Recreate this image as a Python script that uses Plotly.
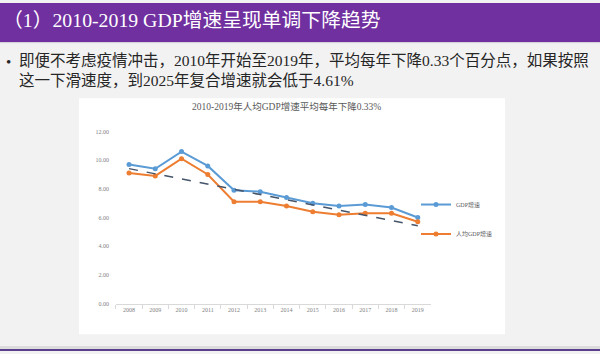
import plotly.graph_objects as go

# ---- data ----
years = ["2008", "2009", "2010", "2011", "2012", "2013", "2014", "2015", "2016", "2017", "2018", "2019"]
gdp_growth = [9.7, 9.4, 10.6, 9.6, 7.9, 7.8, 7.4, 7.0, 6.8, 6.9, 6.7, 6.0]
per_capita_growth = [9.1, 8.9, 10.1, 9.0, 7.1, 7.1, 6.8, 6.4, 6.2, 6.3, 6.3, 5.7]
trend_years = ["2008", "2019"]
trend_values = [9.41, 5.42]
y_ticks = [0, 2, 4, 6, 8, 10, 12]

W, H = 600, 354


def px(x):
    return x / W


def py(y):
    return 1 - y / H


BLUE = "#5B9BD5"
ORANGE = "#ED7D31"
TREND = "#44546A"
PURPLE = "#7030A0"
LABEL = "#7F7F7F"

fig = go.Figure()

fig.add_trace(go.Scatter(
    x=years, y=gdp_growth, name="GDP增速", mode="lines+markers",
    line=dict(color=BLUE, width=2), marker=dict(symbol="circle", size=5, color=BLUE),
    legend="legend",
))
fig.add_trace(go.Scatter(
    x=years, y=per_capita_growth, name="人均GDP增速", mode="lines+markers",
    line=dict(color=ORANGE, width=2), marker=dict(symbol="circle", size=5, color=ORANGE),
    legend="legend2",
))
fig.add_trace(go.Scatter(
    x=trend_years, y=trend_values, mode="lines", showlegend=False,
    line=dict(color=TREND, width=1.5, dash="dash"),
))

serif = "Liberation Serif, Noto Sans CJK SC, serif"

fig.update_layout(
    width=W, height=H,
    margin=dict(l=0, r=0, t=0, b=0),
    paper_bgcolor="#F2F2F2",
    plot_bgcolor="rgba(0,0,0,0)",
    font=dict(family=serif, color=LABEL),
    xaxis=dict(
        domain=[px(115.9), px(430.9)],
        type="category", categoryorder="array", categoryarray=years,
        range=[-0.5, 11.5],
        showline=True, linecolor="#D9D9D9", linewidth=1,
        ticks="outside", tickson="boundaries", ticklen=4, tickcolor="#D9D9D9",
        showgrid=False, zeroline=False,
        tickfont=dict(size=6, color=LABEL, family=serif),
    ),
    yaxis=dict(
        domain=[py(305.7), py(130.7)],
        range=[0, 12],
        tickvals=y_ticks, tickformat=".2f",
        showline=False, showgrid=False, zeroline=False,
        ticks="", ticklabelstandoff=6,
        tickfont=dict(size=6, color=LABEL, family=serif),
    ),
    legend=dict(
        x=px(416), y=py(205), xanchor="left", yanchor="middle",
        bgcolor="rgba(0,0,0,0)", font=dict(size=6, color="#595959", family=serif),
        itemwidth=30,
    ),
    legend2=dict(
        x=px(416), y=py(235), xanchor="left", yanchor="middle",
        bgcolor="rgba(0,0,0,0)", font=dict(size=6, color="#595959", family=serif),
        itemwidth=30,
    ),
    shapes=[
        # header band
        dict(type="rect", xref="paper", yref="paper", x0=0, x1=1, y0=py(40), y1=1,
             fillcolor=PURPLE, line=dict(width=0), layer="below"),
        dict(type="rect", xref="paper", yref="paper", x0=0, x1=1, y0=py(41), y1=py(40),
             fillcolor="#D9D9D9", line=dict(width=0), layer="below"),
        # white chart box
        dict(type="rect", xref="paper", yref="paper", x0=px(79), x1=px(505), y0=py(337), y1=py(97),
             fillcolor="white", line=dict(width=0), layer="below"),
        # bottom strips
        dict(type="rect", xref="paper", yref="paper", x0=0, x1=1, y0=py(352), y1=py(349),
             fillcolor="#DCDCDC", line=dict(width=0), layer="below"),
        dict(type="rect", xref="paper", yref="paper", x0=0, x1=1, y0=0, y1=py(352),
             fillcolor="#5B3F8F", line=dict(width=0), layer="below"),
    ],
    annotations=[
        dict(text="（1）2010-2019 GDP增速呈现单调下降趋势", xref="paper", yref="paper",
             x=px(1), y=py(17), xanchor="left", yanchor="middle", showarrow=False,
             font=dict(size=19.8, color="white", family=serif)),
        dict(text="•", xref="paper", yref="paper",
             x=px(4), y=py(60), xanchor="left", yanchor="middle", showarrow=False,
             font=dict(size=15, color="#262626", family=serif)),
        dict(text=("即便不考虑疫情冲击，2010年开始至2019年，平均每年下降0.33个百分点，如果按照"
                   "<br>这一下滑速度，到2025年复合增速就会低于4.61%"),
             xref="paper", yref="paper", align="left",
             x=px(17), y=py(68.5), xanchor="left", yanchor="middle", showarrow=False,
             font=dict(size=15.5, color="#262626", family=serif)),
        dict(text="2010-2019年人均GDP增速平均每年下降0.33%", xref="paper", yref="paper",
             x=px(286), y=py(105.5), xanchor="center", yanchor="middle", showarrow=False,
             font=dict(size=9.5, color="#595959", family=serif)),
    ],
)

fig.write_html("out.html")
